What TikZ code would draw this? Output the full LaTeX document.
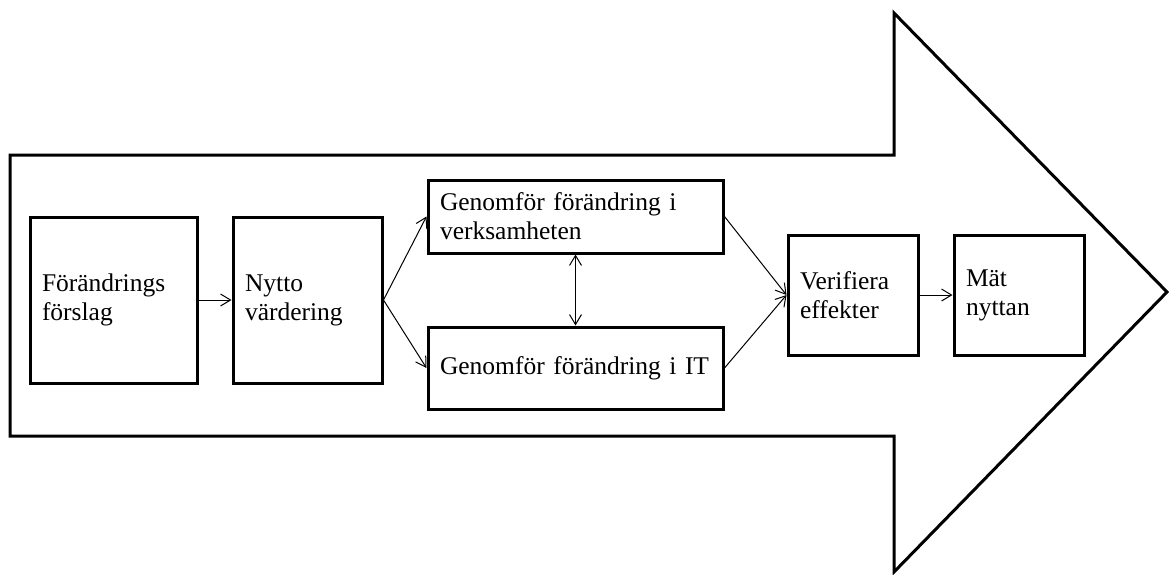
\documentclass[tikz,border=0pt]{standalone}
\usepackage{fontspec}
\setmainfont{Liberation Serif}
\usetikzlibrary{positioning, arrows.meta}

\begin{document}
\begin{tikzpicture}[x=0.5pt, y=-0.5pt, >={Straight Barb[length=5pt, width=6pt]},
  box/.style={draw, line width=1.5pt, inner xsep=6pt, inner ysep=0pt,
    align=left, font=\fontsize{12.75}{14.5}\selectfont},
  conn/.style={line width=0.5pt, ->}]

\useasboundingbox (0,0) rectangle (1169,574);

% Draw big arrow
\draw[line width=1.5pt, miter limit=10] (10,155) -- (894,155) -- (894,13) -- (1167,292)
  -- (894,572) -- (894,436) -- (10,436) -- cycle;

% Draw steps
\node[box, text width=71.5pt, minimum height=83pt] (forslag) at (113.5,300) {Förändrings\\förslag};
\node[box, text width=62.5pt, minimum height=83pt] (nytto) at (307.5,300) {Nytto\\värdering};
\node[box, text width=135.5pt, minimum height=36.5pt] (verks) at (575.5,216.5) {Genomför förändring i\\verksamheten};
\node[box, text width=135.5pt, minimum height=41pt] (it) at (575.5,368) {Genomför förändring i IT};
\node[box, text width=53pt, minimum height=60pt] (verifiera) at (853,295) {Verifiera\\effekter};
\node[box, text width=53pt, minimum height=60pt] (mat) at (1019,295) {Mät\\nyttan};

% Draw connectors
\foreach \a/\b in {forslag/nytto, verifiera/mat}
  \draw[conn] (\a) -- (\b);
\draw[conn] (nytto.east) -- (verks.west);
\draw[conn] (nytto.east) -- (it.west);
\draw[conn] (verks.east) -- (verifiera.west);
\draw[conn] (it.east) -- (verifiera.west);
\draw[conn, <->] (verks) -- (it);

\end{tikzpicture}
\end{document}
